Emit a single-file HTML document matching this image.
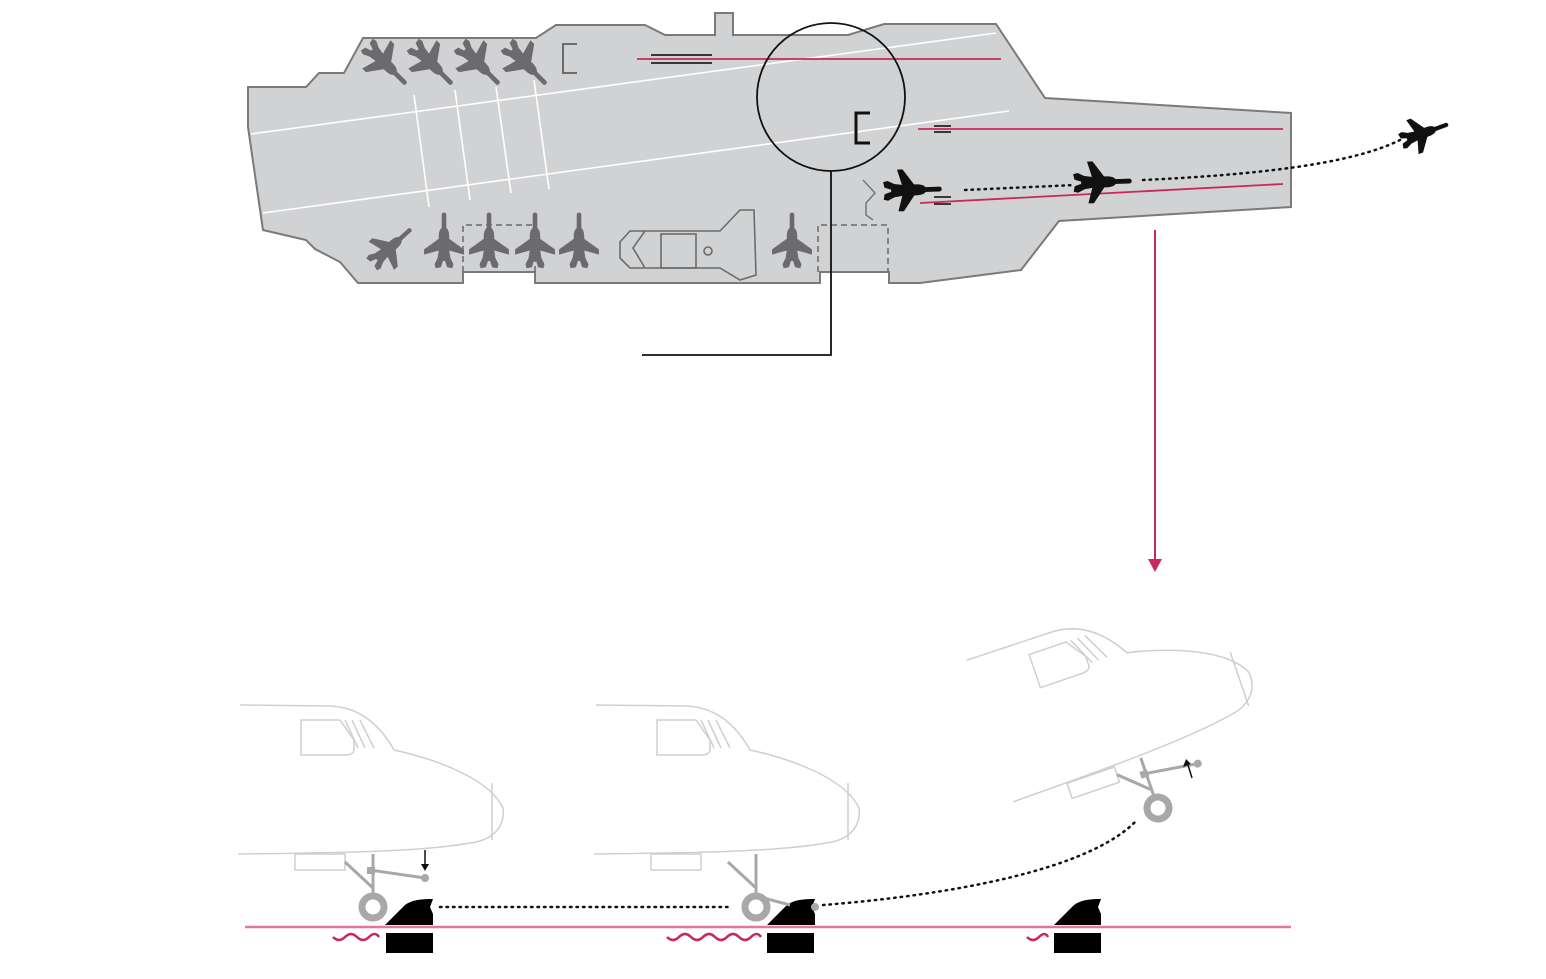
<!DOCTYPE html>
<html><head><meta charset="utf-8"><style>html,body{margin:0;padding:0;background:#fff}svg{display:block}</style></head>
<body>
<svg width="1546" height="979" viewBox="0 0 1546 979" xmlns="http://www.w3.org/2000/svg">
<defs>
<g id="jet">
<rect x="-2.2" y="-27" width="4.4" height="19" rx="2"/>
<path d="M0,-13 C4,-13 5,-8 5,-4 L5,-2 L19,8 L19,13 L5,9 L6,16 L9,22 L8,26 L3,25 L1,19 L-1,19 L-3,25 L-8,26 L-9,22 L-6,16 L-5,9 L-19,13 L-19,8 L-5,-2 L-5,-4 C-5,-8 -4,-13 0,-13 Z"/>
</g>
<g id="nose" fill="none" stroke="#cfcfcf" stroke-width="1.5">
<path d="M240,705 L330,706 C360,707 380,725 394,750 C440,760 490,780 503,808 C505,825 495,840 470,843 C420,852 330,853 238,854"/>
<path d="M301,720 L340,720 L354,740 L354,750 C354,753 350,755 346,755 L301,755 Z"/>
<path d="M345,720 L358,748 M352,720 L365,748 M360,720 L374,748"/>
<path d="M492,783 L492,840"/>
<rect x="295" y="854" width="50" height="16"/>
</g>
<g id="gearbase">
<g stroke="#a8a8a8" stroke-width="3" fill="none">
<path d="M373,854 L373,893 M345,862 L373,888"/>
</g>
<circle cx="373" cy="907" r="11" fill="none" stroke="#a8a8a8" stroke-width="7"/>
</g>
<g id="gear">
<use href="#gearbase"/>
<path d="M370,870 L425,878" stroke="#a8a8a8" stroke-width="3"/>
<rect x="367" y="867" width="8" height="7" fill="#a8a8a8"/>
<circle cx="425" cy="878" r="4" fill="#a8a8a8"/>
</g>
</defs>

<!-- ship -->
<path d="M248,87 L306,87 L319,73 L344,73 L363,38 L536,38 L556,25 L645,25 L665,35 L715,35 L715,13 L733,13 L733,35 L848,35 L884,24 L996,24 L1045,98 L1291,113 L1291,207 L1059,221 L1021,270 L920,283 L889,283 L889,272 L820,272 L820,283 L535,283 L535,272 L463,272 L463,283 L358,283 L340,262 L315,249 L306,240 L263,230 L248,127 Z" fill="#d1d2d4" stroke="#7a7a7a" stroke-width="2"/>
<g stroke="#fff" stroke-width="1.6" fill="none">
<line x1="251" y1="134" x2="996" y2="33"/>
<line x1="263" y1="213" x2="1009" y2="111"/>
<line x1="414" y1="95" x2="429" y2="207"/>
<line x1="455" y1="90" x2="470" y2="200"/>
<line x1="496" y1="87" x2="511" y2="193"/>
<line x1="534" y1="80" x2="549" y2="189"/>
</g>
<g stroke="#c8285a" stroke-width="1.8">
<line x1="637" y1="59" x2="1001" y2="59"/>
<line x1="918" y1="129" x2="1283" y2="129"/>
<line x1="920" y1="203" x2="1283" y2="184"/>
</g>
<g stroke="#222" stroke-width="1.8">
<line x1="651" y1="55" x2="712" y2="55"/><line x1="651" y1="63" x2="712" y2="63"/>
<line x1="934" y1="126" x2="951" y2="126"/><line x1="934" y1="132" x2="951" y2="132"/>
<line x1="934" y1="197" x2="951" y2="197"/><line x1="934" y1="204" x2="951" y2="204"/>
</g>
<path d="M577,44 L563,44 L563,73 L577,73" fill="none" stroke="#6b6b6b" stroke-width="2"/>
<path d="M870,113 L856,113 L856,143 L870,143" fill="none" stroke="#111" stroke-width="3"/>
<path d="M863,180 L875,193 L866,203 L866,215 L873,220" fill="none" stroke="#777" stroke-width="1.5"/>
<g fill="none" stroke="#6b6b6b" stroke-width="1.6">
<path d="M630,231 L720,231 L740,210 L754,210 L756,275 L740,280 L720,268 L630,268 L620,258 L620,242 Z"/>
<path d="M645,231 L633,248 L645,268"/>
<rect x="661" y="234" width="35" height="34"/>
<circle cx="708" cy="251" r="4"/>
</g>
<g fill="none" stroke="#6b6b6b" stroke-width="1.5" stroke-dasharray="6,4">
<path d="M463,272 L463,225 L535,225 L535,272"/>
<path d="M818,272 L818,225 L888,225 L888,272"/>
</g>
<g fill="#6b6b6d">
<use href="#jet" transform="translate(386,64) rotate(135) scale(1.05)"/>
<use href="#jet" transform="translate(432,64) rotate(135) scale(1.05)"/>
<use href="#jet" transform="translate(479,64) rotate(135) scale(1.05)"/>
<use href="#jet" transform="translate(526,64) rotate(135) scale(1.05)"/>
<use href="#jet" transform="translate(391,247) rotate(48) scale(1.0)"/>
<use href="#jet" transform="translate(444,241) scale(1.05)"/>
<use href="#jet" transform="translate(489,241) scale(1.05)"/>
<use href="#jet" transform="translate(535,241) scale(1.05)"/>
<use href="#jet" transform="translate(579,241) scale(1.05)"/>
<use href="#jet" transform="translate(792,241) scale(1.05)"/>
</g>
<g fill="#111">
<use href="#jet" transform="translate(912,190) rotate(88) scale(1.1)"/>
<use href="#jet" transform="translate(1102,182) rotate(88) scale(1.1)"/>
<use href="#jet" transform="translate(1424,133) rotate(70) scale(0.95)"/>
</g>
<g fill="none" stroke="#111" stroke-width="2.5" stroke-dasharray="1.5,5" stroke-linecap="round">
<path d="M965,190 L1075,185"/>
<path d="M1143,180 C1250,175 1350,165 1400,140"/>
</g>
<circle cx="831" cy="97" r="74" fill="none" stroke="#111" stroke-width="1.8"/>
<path d="M831,171 L831,355 L642,355" fill="none" stroke="#111" stroke-width="1.8"/>
<line x1="1155" y1="230" x2="1155" y2="560" stroke="#c8285a" stroke-width="2"/>
<path d="M1148,559 L1162,559 L1155,572 Z" fill="#c8285a"/>

<line x1="245" y1="927" x2="1291" y2="927" stroke="#e07896" stroke-width="2.5"/>
<use href="#nose"/>
<use href="#gear"/>
<use href="#nose" transform="translate(356,0)"/>
<g transform="translate(383,0)"><use href="#gearbase"/></g>
<g transform="translate(1158,808) rotate(-19) translate(-373,-907)">
<use href="#nose"/>
<use href="#gear"/>
</g>
<g stroke="#111" stroke-width="1.5">
<line x1="425" y1="850" x2="425" y2="866"/>
<line x1="1192" y1="778" x2="1188" y2="765"/>
</g>
<path d="M421,864 L429,864 L425,871 Z" fill="#111"/>
<path d="M1183,767 L1191,764 L1186,759 Z" fill="#111"/>
<g fill="#000">
<path d="M385,925 L405,905 C412,900 420,899 433,899 L430,907 L433,914 L433,925 Z"/>
<rect x="386" y="933" width="47" height="20"/>
<path d="M767,925 L787,905 C794,900 802,899 815,899 L812,907 L815,914 L815,925 Z"/>
<rect x="767" y="933" width="47" height="20"/>
<path d="M1054,925 L1074,905 C1081,900 1089,899 1101,899 L1098,907 L1101,914 L1101,925 Z"/>
<rect x="1054" y="933" width="47" height="20"/>
</g>
<line x1="760" y1="897" x2="790" y2="905" stroke="#a8a8a8" stroke-width="3"/>
<circle cx="815" cy="907" r="4" fill="#a8a8a8"/>
<g fill="none" stroke="#111" stroke-width="2.5" stroke-dasharray="1.5,5" stroke-linecap="round">
<path d="M440,907 L728,907"/>
<path d="M823,905 C950,895 1090,870 1137,820"/>
</g>
<g fill="none" stroke="#c8285a" stroke-width="2.5">
<path d="M333,937 q6,6 12,0 t12,0 t12,0 t10,0"/>
<path d="M667,937 q6,6 12,0 t12,0 t12,0 t12,0 t12,0 t12,0 t12,0 t10,0"/>
<path d="M1027,937 q6,6 12,0 t9,0"/>
</g>
</svg>
</body></html>
